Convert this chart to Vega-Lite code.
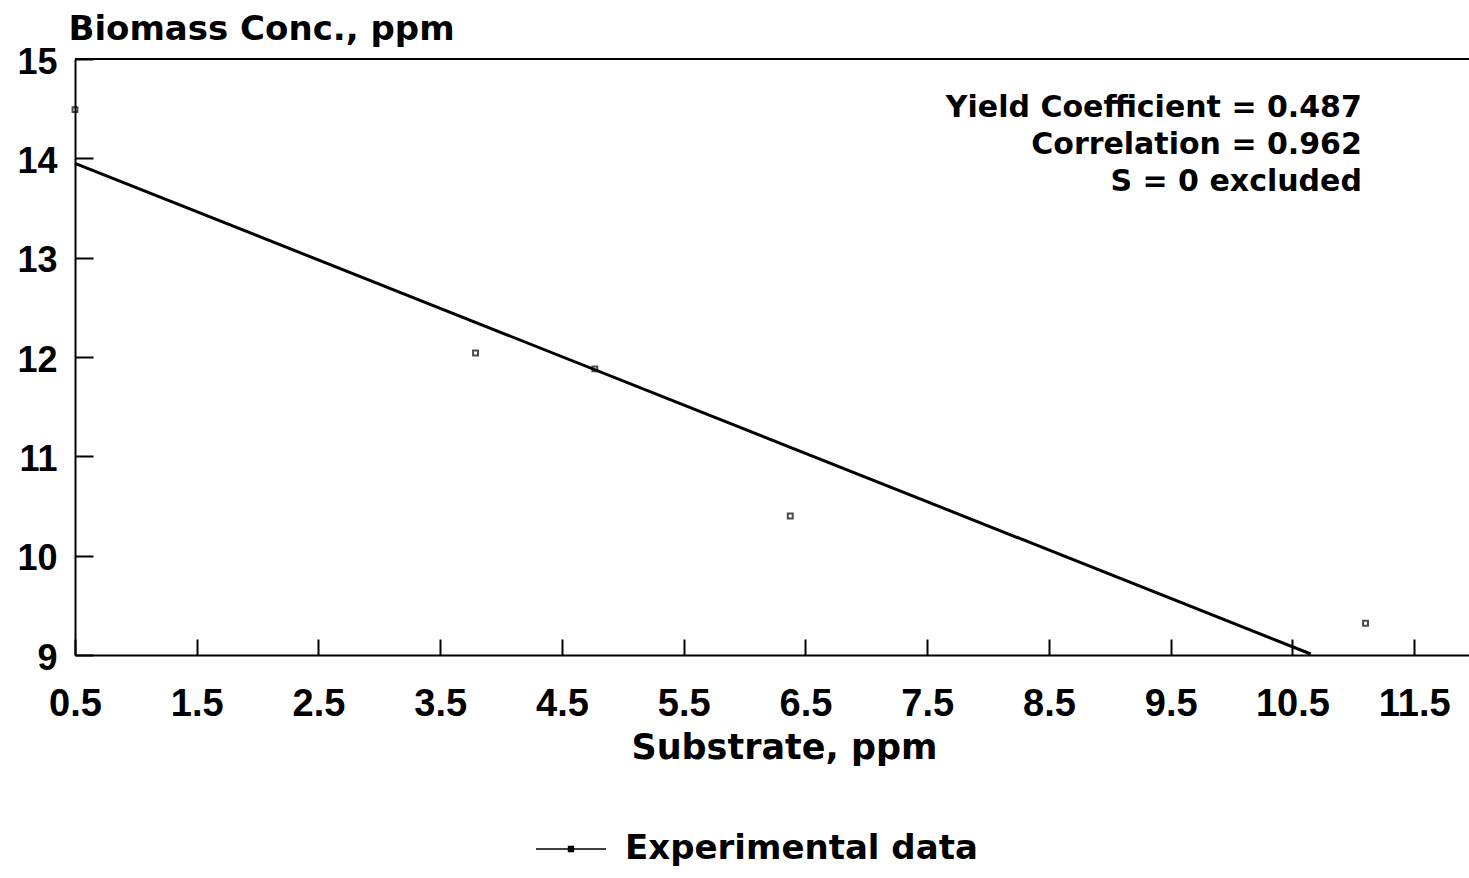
{
  "$schema": "https://vega.github.io/schema/vega-lite/v6.json",
  "autosize": "none",
  "width": 1394,
  "height": 596,
  "padding": {"left": 75, "top": 59, "right": 0, "bottom": 223},
  "background": "white",
  "config": {"view": {"stroke": null}, "font": "Liberation Sans"},
  "datasets": {
    "points": [
      {"substrate": 0.5, "biomass": 14.49},
      {"substrate": 3.79, "biomass": 12.04},
      {"substrate": 4.77, "biomass": 11.88},
      {"substrate": 6.375, "biomass": 10.40},
      {"substrate": 11.1, "biomass": 9.32}
    ],
    "fit": [
      {"substrate": 0.5, "biomass": 13.95},
      {"substrate": 10.65, "biomass": 9.01}
    ]
  },
  "layer": [
    {
      "data": {"values": [{}]},
      "mark": {"type": "rule", "color": "black", "strokeWidth": 2},
      "encoding": {"y": {"datum": 15, "type": "quantitative"}}
    },
    {
      "data": {"name": "fit"},
      "mark": {"type": "line", "strokeWidth": 3},
      "encoding": {
        "x": {
          "field": "substrate",
          "type": "quantitative",
          "scale": {"domain": [0.5, 11.95], "nice": false, "zero": false},
          "axis": {
            "values": [0.5, 1.5, 2.5, 3.5, 4.5, 5.5, 6.5, 7.5, 8.5, 9.5, 10.5, 11.5],
            "format": ".1f",
            "grid": false,
            "labelFont": "Liberation Sans",
            "labelFontWeight": "bold",
            "labelFontSize": 38,
            "labelColor": "black",
            "labelFlush": false,
            "labelOverlap": false,
            "labelPadding": 46,
            "tickSize": -16,
            "tickWidth": 2,
            "tickColor": "black",
            "domainColor": "black",
            "domainWidth": 2,
            "title": "Substrate, ppm",
            "titleFont": "DejaVu Sans",
            "titleFontWeight": "bold",
            "titleFontSize": 35,
            "titleColor": "black",
            "titleBaseline": "alphabetic",
            "titleX": 709,
            "titleY": 103
          }
        },
        "y": {
          "field": "biomass",
          "type": "quantitative",
          "scale": {"domain": [9, 15], "nice": false, "zero": false},
          "axis": {
            "values": [9, 10, 11, 12, 13, 14, 15],
            "format": "d",
            "grid": false,
            "labelFont": "Liberation Sans",
            "labelFontWeight": "bold",
            "labelFontSize": 36,
            "labelColor": "black",
            "labelFlush": false,
            "labelOverlap": false,
            "labelPadding": 36,
            "labelOffset": 3,
            "tickSize": -18,
            "tickWidth": 2,
            "tickColor": "black",
            "domainColor": "black",
            "domainWidth": 2,
            "title": "Biomass Conc., ppm",
            "titleFont": "DejaVu Sans",
            "titleFontWeight": "bold",
            "titleFontSize": 34,
            "titleColor": "black",
            "titleAngle": 0,
            "titleAlign": "left",
            "titleBaseline": "alphabetic",
            "titleX": -7,
            "titleY": -20
          }
        },
        "color": {
          "datum": "Experimental data",
          "scale": {"range": ["black"]},
          "legend": {
            "orient": "none",
            "legendX": 460,
            "legendY": 754,
            "title": null,
            "padding": 0,
            "symbolType": "M-1,0H1M-0.07,-0.07H0.07V0.07H-0.07Z",
            "symbolSize": 4900,
            "symbolStrokeColor": "black",
            "symbolFillColor": "black",
            "symbolStrokeWidth": 1.5,
            "labelFont": "DejaVu Sans",
            "labelFontWeight": "bold",
            "labelFontSize": 34,
            "labelColor": "black",
            "labelOffset": 18,
            "labelLimit": 0
          }
        }
      }
    },
    {
      "data": {"name": "points"},
      "mark": {"type": "point", "shape": "square", "size": 24, "filled": false, "color": "black", "strokeWidth": 2},
      "encoding": {
        "x": {"field": "substrate", "type": "quantitative"},
        "y": {"field": "biomass", "type": "quantitative"}
      }
    },
    {
      "data": {"values": [{}]},
      "mark": {
        "type": "text",
        "align": "right",
        "baseline": "alphabetic",
        "font": "DejaVu Sans",
        "fontWeight": "bold",
        "fontSize": 30,
        "lineHeight": 37,
        "color": "black",
        "text": ["Yield Coefficient = 0.487", "Correlation = 0.962", "S = 0 excluded"]
      },
      "encoding": {
        "x": {"datum": 11.07, "type": "quantitative"},
        "y": {"datum": 14.416, "type": "quantitative"}
      }
    }
  ]
}
